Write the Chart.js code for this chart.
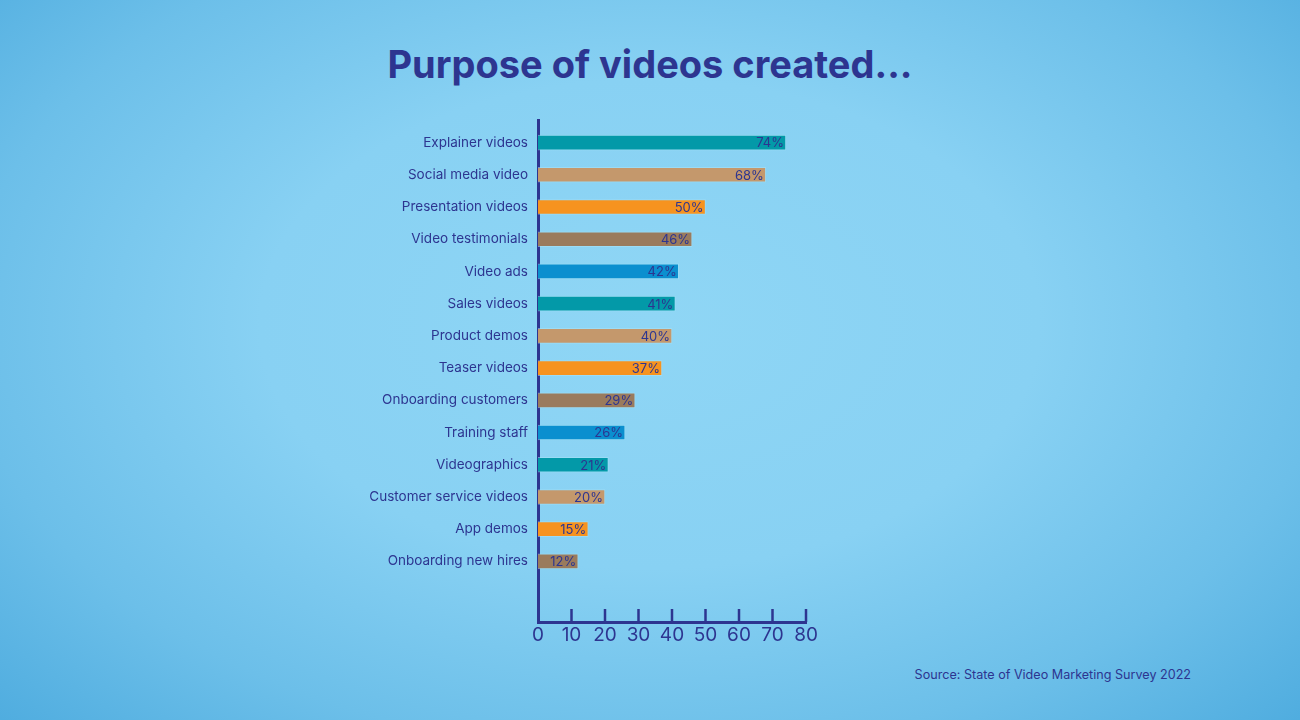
<!DOCTYPE html>
<html>
<head>
<meta charset="utf-8">
<script src="https://cdn.jsdelivr.net/npm/chart.js@4/dist/chart.umd.min.js"></script>
<style>
  html, body { margin: 0; padding: 0; }
  body {
    width: 1300px; height: 720px; overflow: hidden; position: relative;
    background: radial-gradient(ellipse 75% 85% at 50% 45%, #8fd6f5 0%, #88d1f3 40%, #6cbfe9 70%, #47a7dc 100%);
    font-family: Inter, "Noto Sans", sans-serif;
  }
  #title {
    position: absolute; left: 0; width: 1300px; top: 41px; text-align: center;
    font-size: 38px; font-weight: 700; color: #2d3590; letter-spacing: 0px;
  }
  #source {
    position: absolute; right: 109px; top: 667px; font-size: 12.6px; color: #2d3590;
  }
  canvas { position: absolute; left: 0; top: 0; }
</style>
</head>
<body>
<div id="title">Purpose of videos created...</div>
<div id="source">Source: State of Video Marketing Survey 2022</div>
<canvas id="c" width="1300" height="720"></canvas>
<script>
const categories = [
  "Explainer videos", "Social media video", "Presentation videos", "Video testimonials",
  "Video ads", "Sales videos", "Product demos", "Teaser videos", "Onboarding customers",
  "Training staff", "Videographics", "Customer service videos", "App demos", "Onboarding new hires"
];
const values = [74, 68, 50, 46, 42, 41, 40, 37, 29, 26, 21, 20, 15, 12];
const xTicks = [0, 10, 20, 30, 40, 50, 60, 70, 80];

const palette = ["#0399a8", "#c4986c", "#f6931f", "#9a7b5d", "#0b8fcf"];
const barColors = categories.map((_, i) => palette[i % palette.length]);
const navy = "#2d3590";

const valueLabels = {
  id: "valueLabels",
  afterDatasetsDraw(chart) {
    const ctx = chart.ctx;
    const meta = chart.getDatasetMeta(0);
    ctx.save();
    ctx.font = "13px Inter, 'Noto Sans', sans-serif";
    ctx.fillStyle = navy;
    ctx.textAlign = "right";
    ctx.textBaseline = "middle";
    meta.data.forEach((bar, i) => {
      ctx.fillText(values[i] + "%", bar.x - 2, bar.y + 1);
    });
    ctx.restore();
  }
};

const innerTicks = {
  id: "innerTicks",
  afterDraw(chart) {
    const ctx = chart.ctx;
    const xs = chart.scales.x;
    const bottom = chart.chartArea.bottom;
    ctx.save();
    ctx.strokeStyle = navy;
    ctx.lineWidth = 2.5;
    xTicks.forEach(t => {
      if (t === 0) return;
      const px = xs.getPixelForValue(t);
      ctx.beginPath();
      ctx.moveTo(px, bottom);
      ctx.lineTo(px, bottom - 13);
      ctx.stroke();
    });
    ctx.restore();
  }
};

new Chart(document.getElementById("c"), {
  type: "bar",
  data: {
    datasets: [{
      data: values.map((v, i) => ({ x: v, y: i })),
      backgroundColor: barColors,
      borderColor: "rgba(170,225,245,0.55)",
      borderWidth: 1,
      borderSkipped: "start",
      barThickness: 15
    }]
  },
  options: {
    indexAxis: "y",
    responsive: false,
    animation: false,
    layout: { padding: { left: 0, right: 494, top: 120, bottom: 0 } },
    plugins: { legend: { display: false }, tooltip: { enabled: false }, title: { display: false } },
    scales: {
      x: {
        type: "linear",
        position: "bottom",
        min: 0, max: 80,
        offset: false,
        afterBuildTicks: s => { s.ticks = xTicks.map(v => ({ value: v })); },
        afterFit: s => { s.height = 98; },
        grid: { display: false, drawTicks: false },
        border: { display: true, color: navy, width: 3 },
        ticks: { color: navy, font: { size: 19, family: "Inter, 'Noto Sans', sans-serif" }, padding: 2, maxRotation: 0 }
      },
      y: {
        type: "linear",
        reverse: true,
        offset: false,
        bounds: "data",
        min: -0.7, max: 14.88,
        afterBuildTicks: s => { s.ticks = categories.map((_, i) => ({ value: i })); },
        afterFit: s => { s.width = 538; },
        grid: { display: false, drawTicks: false, offset: false },
        border: { display: true, color: navy, width: 3 },
        ticks: {
          color: navy,
          autoSkip: false,
          padding: 10,
          font: { size: 13.5, family: "Inter, 'Noto Sans', sans-serif" },
          callback: v => categories[v] ?? ""
        }
      }
    }
  },
  plugins: [valueLabels, innerTicks]
});
</script>
</body>
</html>
